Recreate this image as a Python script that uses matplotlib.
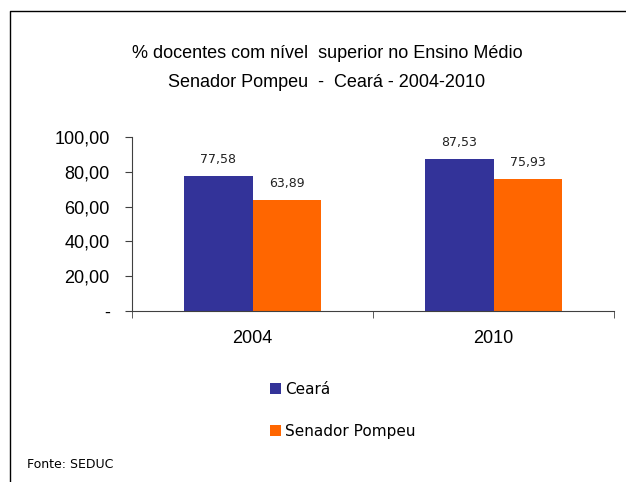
import matplotlib.pyplot as plt
from matplotlib.lines import Line2D
from matplotlib.ticker import FuncFormatter, FixedLocator
import numpy as np

years = ['2004', '2010']
ceara = [77.58, 87.53]
senador_pompeu = [63.89, 75.93]
series_names = ['Ceará', 'Senador Pompeu']
colors = ['#333399', '#FF6600']

W, H = 626, 482
fig = plt.figure(figsize=(W / 100, H / 100), dpi=100)
ax = fig.add_axes([132 / W, 1 - 311 / H, (614 - 132) / W, (311 - 137) / H])

x = np.arange(len(years))
bw = 0.285
b1 = ax.bar(x - bw / 2, ceara, bw, color=colors[0], label=series_names[0])
b2 = ax.bar(x + bw / 2, senador_pompeu, bw, color=colors[1], label=series_names[1])

fmt = lambda v: f'{v:.2f}'.replace('.', ',')
for bars, vals in [(b1, ceara), (b2, senador_pompeu)]:
    ax.bar_label(bars, labels=[fmt(v) for v in vals], padding=7,
                 fontsize=9, family='DejaVu Sans', color='#222222')

ax.set_xlim(-0.5, len(years) - 0.5)
ax.set_ylim(0, 100)
ax.set_yticks(np.arange(0, 101, 20))
ax.yaxis.set_major_formatter(FuncFormatter(lambda v, p: '-' if v == 0 else fmt(v)))
ax.set_xticks(x)
ax.set_xticklabels(years)
ax.xaxis.set_minor_locator(FixedLocator([-0.5, 0.5, 1.5]))
ax.tick_params(axis='x', which='major', length=0, pad=14)
ax.tick_params(axis='x', which='minor', length=5, direction='out', color='#404040')
ax.tick_params(axis='y', length=5, direction='out', color='#404040', pad=11)
for lab in ax.get_xticklabels() + ax.get_yticklabels():
    lab.set_family('Liberation Sans')
    lab.set_fontsize(13)

for s in ['top', 'right']:
    ax.spines[s].set_visible(False)
for s in ['left', 'bottom']:
    ax.spines[s].set_color('#404040')

fig.text(327 / W, 1 - 53 / H, '% docentes com nível  superior no Ensino Médio',
         ha='center', va='center', fontsize=13, family='Liberation Sans')
fig.text(327 / W, 1 - 82 / H, 'Senador Pompeu  -  Ceará - 2004-2010',
         ha='center', va='center', fontsize=13, family='Liberation Sans')

fig.legend(handles=[b1, b2], loc='upper left', bbox_to_anchor=(270 / W, 1 - 382 / H),
           frameon=False, prop={'family': 'DejaVu Sans', 'size': 11},
           handlelength=0.7, handleheight=0.7, handletextpad=0.3,
           labelspacing=1.75, borderpad=0, borderaxespad=0)

fig.text(27 / W, 1 - 464 / H, 'Fonte: SEDUC', ha='left', va='center',
         fontsize=9, family='DejaVu Sans')

# outer frame (left and top edges)
fig.add_artist(Line2D([10 / W, 10 / W, 1.01], [-0.01, 1 - 11 / H, 1 - 11 / H],
                      transform=fig.transFigure, color='black', lw=1))

fig.savefig('out.png', dpi=100)
